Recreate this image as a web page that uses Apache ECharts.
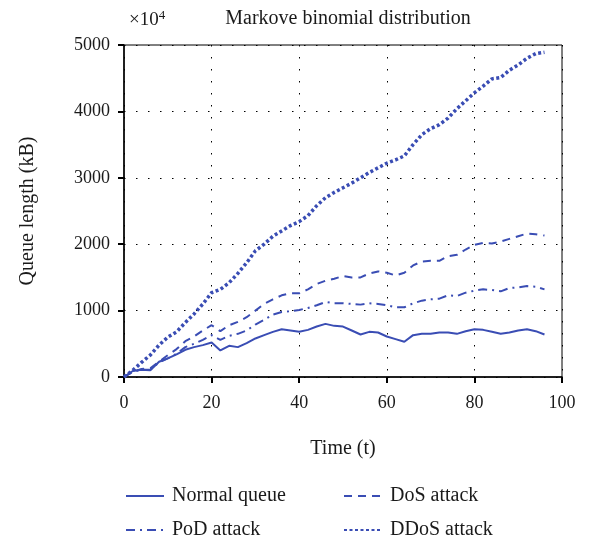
<!DOCTYPE html>
<html>
<head>
<meta charset="utf-8">
<script src="https://cdn.jsdelivr.net/npm/echarts@6/dist/echarts.min.js"></script>
<style>html,body{margin:0;padding:0;background:#fff}#c{width:594px;height:546px}</style>
</head>
<body>
<div id="c"></div>
<script>
var timeT = [0,2,4,6,8,10,12,14,16,18,20,22,24,26,28,30,32,34,36,38,40,42,44,46,48,50,52,54,56,58,60,62,64,66,68,70,72,74,76,78,80,82,84,86,88,90,92,94,96];
var normalQueue = [0,90,110,100,230,280,340,410,450,480,520,400,470,450,510,580,630,680,720,700,680,710,760,800,770,760,700,640,680,670,610,570,530,630,650,650,670,670,650,690,720,710,680,650,670,700,720,690,640];
var dosAttack = [0,80,120,130,230,330,420,540,610,700,780,690,780,830,900,1000,1100,1170,1230,1260,1260,1320,1400,1450,1480,1520,1500,1500,1560,1590,1570,1530,1570,1680,1740,1750,1750,1820,1840,1920,1990,2020,2010,2040,2080,2120,2160,2150,2130];
var podAttack = [0,80,110,110,220,280,350,450,500,560,630,560,620,650,700,790,860,940,980,990,1010,1040,1080,1130,1110,1110,1100,1090,1110,1100,1080,1050,1050,1110,1150,1170,1180,1230,1220,1270,1300,1320,1310,1290,1340,1350,1370,1360,1320];
var ddosAttack = [0,100,220,330,480,600,680,820,950,1100,1270,1320,1420,1560,1720,1900,2000,2120,2200,2280,2340,2430,2580,2700,2780,2850,2920,3000,3080,3150,3220,3270,3330,3500,3650,3740,3800,3900,4040,4160,4280,4380,4490,4510,4620,4700,4800,4870,4890];
var xTicks = [0,20,40,60,80,100];
var yTicks = [0,1000,2000,3000,4000,5000];

function pairs(v){ return timeT.map(function(t,i){ return [t, v[i]]; }); }
var FONT = '"Liberation Serif", "DejaVu Serif", serif';
var BLUE = '#3a4db4';
var TXT = '#1a1a1a';
function mk(name, data, type, width, color){
  return {name:name, type:'line', data:pairs(data), showSymbol:false, symbol:'none', animation:false,
    lineStyle:{color:color, width:width, type:type}, itemStyle:{color:color}};
}
var chart = echarts.init(document.getElementById('c'));
chart.setOption({
  backgroundColor:'#fff',
  animation:false,
  textStyle:{fontFamily:FONT},
  title:[{text:'Markove binomial distribution', left:343, top:4, textAlign:'center',
    textStyle:{fontFamily:FONT, fontWeight:'normal', fontSize:20, color:TXT}},
    {text:'×10{s|4}', left:124, top:4,
    textStyle:{fontFamily:FONT, fontWeight:'normal', fontSize:19, color:TXT,
      rich:{s:{fontFamily:FONT, fontSize:13, color:TXT, verticalAlign:'top', padding:[0,0,9,0]}}}}],
  grid:{left:124, right:32, top:45, bottom:169, show:true, borderColor:'#000', borderWidth:1},
  xAxis:{type:'value', min:0, max:100, interval:20, name:'Time (t)', nameLocation:'middle', nameGap:62,
    nameTextStyle:{fontFamily:FONT, fontSize:20, color:TXT},
    axisLine:{lineStyle:{color:'#000', width:1.5}},
    axisTick:{inside:false, length:6, lineStyle:{color:'#000', width:2}},
    axisLabel:{fontFamily:FONT, fontSize:18, color:TXT, margin:17, formatter:function(v){return String(v);}},
    splitLine:{show:true, lineStyle:{color:'#000', width:1, type:[1.5,10.5]}}},
  yAxis:{type:'value', min:0, max:5000, interval:1000, name:'Queue length (kB)', nameLocation:'middle', nameGap:86,
    nameTextStyle:{fontFamily:FONT, fontSize:20, color:TXT},
    axisLine:{lineStyle:{color:'#000', width:1.5}},
    axisTick:{inside:false, length:6, lineStyle:{color:'#000', width:2}},
    axisLabel:{fontFamily:FONT, fontSize:18, color:TXT, margin:14, formatter:function(v){return String(v);}},
    splitLine:{show:true, lineStyle:{color:'#000', width:1, type:[1.5,10.5]}}},
  legend:[
    {left:120, top:481, orient:'vertical', itemGap:14, itemWidth:38, itemHeight:14,
     itemStyle:{opacity:0},
     data:['Normal queue','PoD attack'], textStyle:{fontFamily:FONT, fontSize:20, color:TXT, padding:[0,0,0,3]}},
    {left:338, top:481, orient:'vertical', itemGap:14, itemWidth:38, itemHeight:14,
     itemStyle:{opacity:0},
     data:['DoS attack','DDoS attack'], textStyle:{fontFamily:FONT, fontSize:20, color:TXT, padding:[0,0,0,3]}}
  ],
  series:[
    mk('Normal queue', normalQueue, 'solid', 2, BLUE),
    mk('DoS attack', dosAttack, [8,6], 2, BLUE),
    mk('PoD attack', podAttack, [9,5,2,5], 2, BLUE),
    mk('DDoS attack', ddosAttack, [3,2.5], 3.5, BLUE)
  ]
});
</script>
</body>
</html>
